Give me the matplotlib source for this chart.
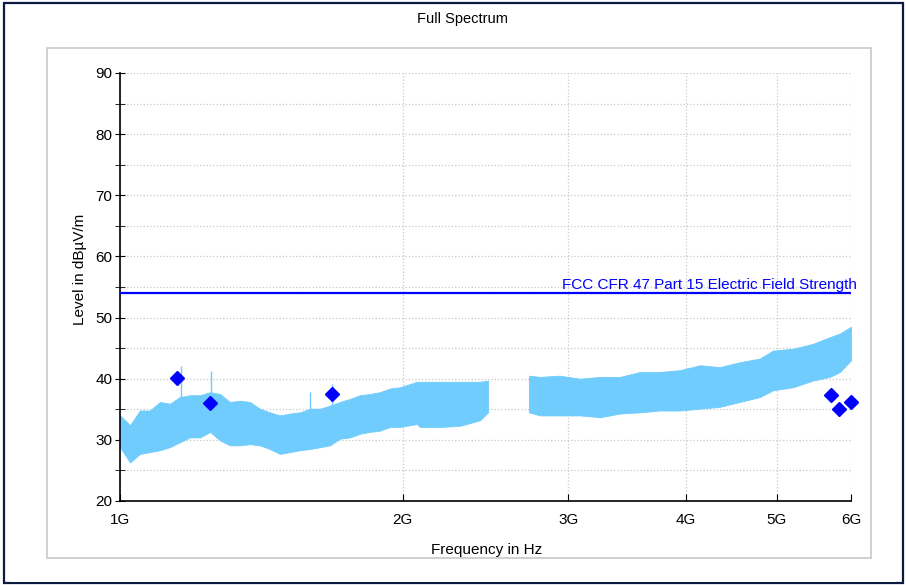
import matplotlib
matplotlib.use('Agg')
import matplotlib.pyplot as plt
from matplotlib.patches import Rectangle
from matplotlib.ticker import FixedLocator, FixedFormatter, MultipleLocator, NullLocator

plt.rcParams['font.family'] = ['Liberation Sans', 'DejaVu Sans']

# Spectrum band: frequency in GHz, lower and upper level in dBµV/m
freq_a = [1.000, 1.025, 1.050, 1.076, 1.103, 1.130, 1.158, 1.187, 1.217, 1.247,
          1.278, 1.309, 1.342, 1.375, 1.409, 1.444, 1.480, 1.517, 1.555, 1.593,
          1.633, 1.673, 1.715, 1.757, 1.801, 1.845, 1.891, 1.938, 1.986, 2.071,
          2.086, 2.191, 2.301, 2.417, 2.465]
upper_a = [34.0, 32.4, 34.8, 34.8, 36.2, 35.9, 37.0, 37.3, 37.3, 37.8,
           37.5, 36.2, 36.4, 36.2, 35.1, 34.5, 34.0, 34.3, 34.5, 35.1,
           35.1, 35.6, 36.2, 36.7, 37.3, 37.5, 37.8, 38.4, 38.6, 39.5,
           39.5, 39.5, 39.5, 39.5, 39.7]
lower_a = [28.8, 26.3, 27.7, 28.0, 28.3, 28.8, 29.6, 30.4, 30.4, 31.3,
           29.9, 29.1, 29.1, 29.3, 29.1, 28.5, 27.7, 28.0, 28.3, 28.5,
           28.8, 29.1, 30.2, 30.4, 31.0, 31.3, 31.5, 32.1, 32.1, 32.6,
           32.1, 32.1, 32.3, 33.2, 34.5]

freq_b = [2.725, 2.799, 2.939, 3.087, 3.243, 3.406, 3.577, 3.756, 3.945, 4.143,
          4.350, 4.569, 4.799, 4.955, 5.204, 5.465, 5.698, 5.839, 6.000]
upper_b = [40.5, 40.3, 40.5, 40.0, 40.3, 40.3, 41.1, 41.1, 41.4, 42.2,
           41.9, 42.7, 43.3, 44.6, 44.9, 45.7, 46.8, 47.4, 48.5]
lower_b = [34.5, 34.0, 34.0, 34.0, 33.7, 34.3, 34.5, 34.8, 34.8, 35.1,
           35.4, 36.2, 37.0, 38.1, 38.6, 39.7, 40.3, 41.1, 43.0]

# single narrow spikes above the band
spike_freq = [1.160, 1.250, 1.593, 1.681]
spike_top = [42.0, 41.3, 37.8, 39.2]

# final measurement points
peak_freq = [1.150, 1.247, 1.681, 5.71, 5.82, 6.00]
peak_level = [40.1, 36.0, 37.5, 37.3, 35.0, 36.2]

limit_freq = [1.0, 6.0]
limit_level = [54.0, 54.0]
limit_name = 'FCC CFR 47 Part 15 Electric Field Strength'

x_ticks = [1, 2, 3, 4, 5, 6]
x_labels = ['1G', '2G', '3G', '4G', '5G', '6G']

band_color = '#70ccfc'
blue = '#0000ff'

fig = plt.figure(figsize=(9.06, 5.85), dpi=100)

# outer frame and inner panel
fig.patches.append(Rectangle((4 / 906, 2 / 585), 899 / 906, 580 / 585, transform=fig.transFigure,
                             fill=False, edgecolor='#0d1a40', linewidth=1.6, zorder=0))
fig.patches.append(Rectangle((47 / 906, 1 - 558 / 585), 824 / 906, 510 / 585, transform=fig.transFigure,
                             fill=False, edgecolor='#c8c8c8', linewidth=1.2, zorder=0))

ax = fig.add_axes([120 / 906, 1 - 501 / 585, 731 / 906, 428 / 585])
ax.set_xscale('log')
ax.set_xlim(1, 6)
ax.set_ylim(20, 90)

ax.fill_between(freq_a, lower_a, upper_a, color=band_color, linewidth=0.6, edgecolor=band_color, zorder=2)
ax.fill_between(freq_b, lower_b, upper_b, color=band_color, linewidth=0.6, edgecolor=band_color, zorder=2)
ax.vlines(spike_freq, 34, spike_top, color=band_color, linewidth=1.0, zorder=2)

ax.plot(limit_freq, limit_level, color=blue, linewidth=1.6, zorder=3)
ax.annotate(limit_name, xy=(6, 54), xytext=(4, 1), textcoords='offset points',
            ha='right', va='bottom', color=blue, fontsize=11)

ax.plot(peak_freq, peak_level, linestyle='none', marker='D', markersize=7,
        color=blue, clip_on=False, zorder=4)

ax.xaxis.set_major_locator(FixedLocator(x_ticks))
ax.xaxis.set_major_formatter(FixedFormatter(x_labels))
ax.xaxis.set_minor_locator(NullLocator())
ax.yaxis.set_major_locator(MultipleLocator(10))
ax.yaxis.set_minor_locator(MultipleLocator(5))

ax.tick_params(axis='x', which='major', direction='in', length=5, labelsize=11, pad=9)
ax.tick_params(axis='y', which='both', direction='inout', length=7, labelsize=11, pad=2)

ax.grid(True, which='major', axis='x', color='#c8c8c8', linestyle=':', linewidth=0.9)
ax.grid(True, which='both', axis='y', color='#c8c8c8', linestyle=':', linewidth=0.9)
ax.set_axisbelow(True)

for side in ['top', 'right']:
    ax.spines[side].set_visible(False)
ax.spines['left'].set_linewidth(1.2)
ax.spines['bottom'].set_linewidth(1.2)

fig.text(462 / 906, 1 - 19 / 585, 'Full Spectrum', ha='center', va='center', fontsize=10.5)
fig.text(80 / 906, 1 - 269 / 585, 'Level in dBµV/m', rotation=90, ha='center', va='center', fontsize=11)
fig.text(487 / 906, 1 - 550 / 585, 'Frequency in Hz', ha='center', va='center', fontsize=11)

# cover the part of the axis label that falls below the panel
fig.patches.append(Rectangle((10 / 906, 3 / 585), 886 / 906, 23 / 585, transform=fig.transFigure,
                             facecolor='white', edgecolor='none', zorder=5))

fig.savefig('out.png', dpi=100)
